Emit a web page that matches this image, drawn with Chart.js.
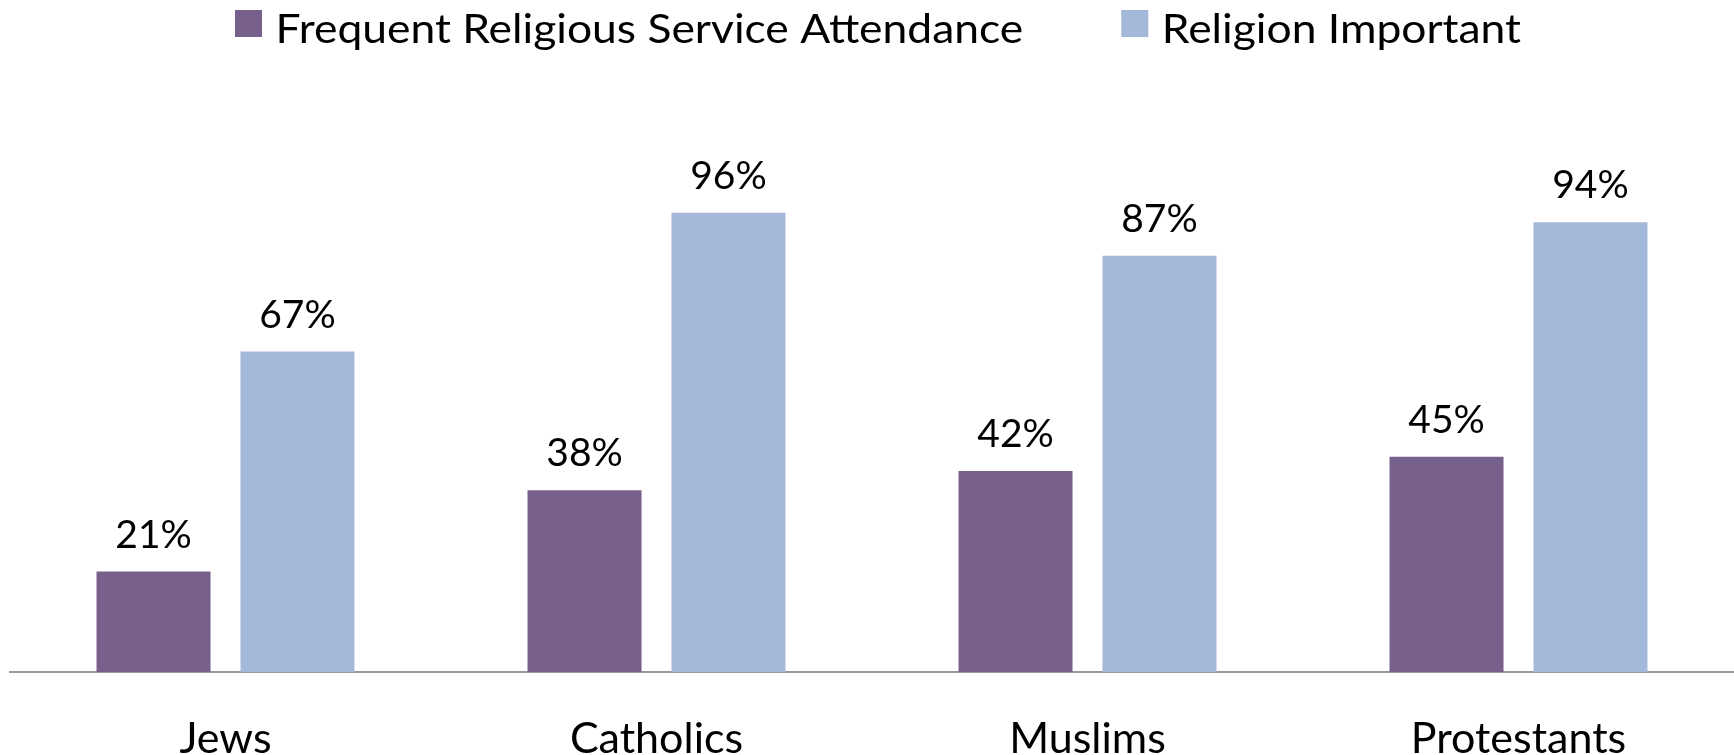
<!DOCTYPE html>
<html><head><meta charset="utf-8">
<script src="https://cdn.jsdelivr.net/npm/chart.js@4.4.0/dist/chart.umd.min.js"></script>
<style>html,body{margin:0;padding:0;background:#fff;overflow:hidden}#wrap{width:1734px;height:755px}</style>
</head><body><div id="wrap"><canvas id="c" width="1734" height="755"></canvas></div>
<script>
const categories = ['Jews', 'Catholics', 'Muslims', 'Protestants'];
const attendance = [21, 38, 42, 45];
const importance = [67, 96, 87, 94];
const seriesNames = ['Frequent Religious Service Attendance', 'Religion Important'];
const seriesColors = ['#77608C', '#A4B8D9'];

const FONT = 'Lato, "Open Sans", sans-serif';

const legendPlugin = {
  id: 'customLegend',
  afterDraw(chart) {
    const ctx = chart.ctx;
    ctx.save();
    ctx.font = '40px ' + FONT;
    ctx.textBaseline = 'alphabetic';
    ctx.textAlign = 'left';
    const sx = 1.11;
    const box = 27, gapText = 13.5, gapItem = 98;
    const items = chart.data.datasets.map(ds => ({label: ds.label, color: ds.backgroundColor, w: ctx.measureText(ds.label).width * sx}));
    let total = 0;
    items.forEach((it, i) => { total += box + gapText + it.w + (i < items.length - 1 ? gapItem : 0); });
    let x = 878 - total / 2;
    items.forEach(it => {
      ctx.fillStyle = it.color;
      ctx.fillRect(x, 10, box, box);
      x += box + gapText;
      ctx.fillStyle = '#000';
      ctx.save();
      ctx.translate(x, 42.5);
      ctx.scale(sx, 1);
      ctx.fillText(it.label, 0, 0);
      ctx.restore();
      x += it.w + gapItem;
    });
    ctx.restore();
  }
};

const valueLabels = {
  id: 'valueLabels',
  afterDatasetsDraw(chart) {
    const ctx = chart.ctx;
    ctx.save();
    ctx.font = '39px ' + FONT;
    ctx.fillStyle = '#000';
    ctx.textAlign = 'center';
    ctx.textBaseline = 'alphabetic';
    chart.data.datasets.forEach((ds, i) => {
      chart.getDatasetMeta(i).data.forEach((bar, j) => {
        ctx.fillText(ds.data[j] + '%', bar.x, bar.y - 24);
      });
    });
    ctx.restore();
  }
};

new Chart(document.getElementById('c'), {
  type: 'bar',
  data: {
    labels: categories,
    datasets: [
      {label: seriesNames[0], data: attendance, backgroundColor: seriesColors[0], borderWidth: 0},
      {label: seriesNames[1], data: importance, backgroundColor: seriesColors[1], borderWidth: 0}
    ]
  },
  options: {
    responsive: false,
    animation: false,
    devicePixelRatio: 1,
    layout: {padding: {top: 98, left: 10, right: 0, bottom: 0}},
    datasets: {bar: {categoryPercentage: 0.668, barPercentage: 0.792}},
    plugins: {legend: {display: false}, tooltip: {enabled: false}},
    scales: {
      x: {
        grid: {display: false, drawTicks: false},
        border: {display: true, color: '#9A9A9A', width: 2},
        ticks: {color: '#000', font: {family: FONT, size: 43}, padding: 41},
        afterFit(scale) { scale.height = 83; }
      },
      y: {display: false, min: 0, max: 120}
    }
  },
  plugins: [legendPlugin, valueLabels]
});
</script>
</body></html>
